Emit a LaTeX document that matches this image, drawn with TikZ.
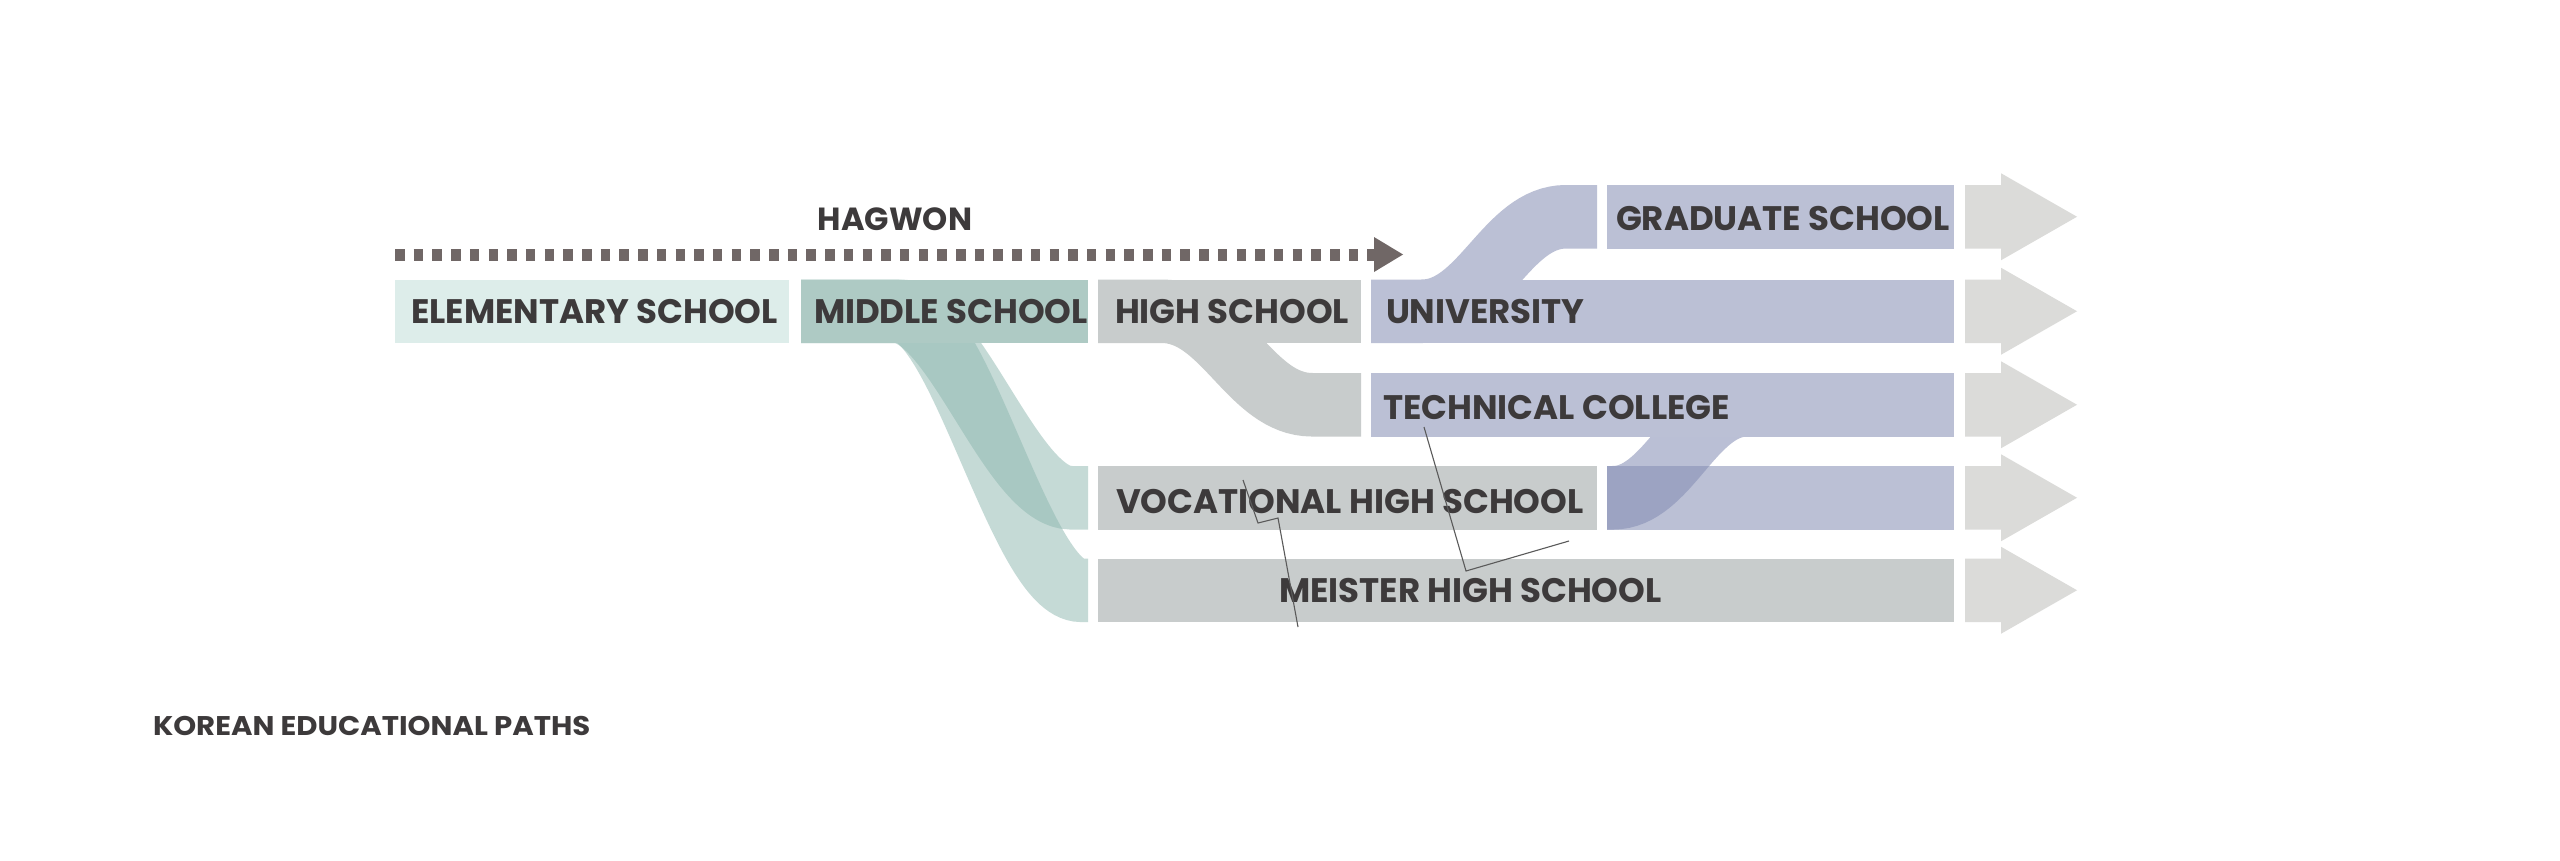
\documentclass[tikz,border=0pt]{standalone}
\usepackage{fontspec}
\setmainfont{Poppins}
\definecolor{elemc}{HTML}{DDEDEA}
\definecolor{midc}{HTML}{AECAC4}
\definecolor{tealc}{HTML}{8DB7AF}
\definecolor{greyc}{HTML}{C8CCCC}
\definecolor{purpc}{HTML}{BBC0D5}
\definecolor{purpband}{HTML}{838CB3}
\definecolor{arrc}{HTML}{DBDBD9}
\definecolor{txtc}{HTML}{3D3A3B}
\definecolor{dotc}{HTML}{706766}
\definecolor{leadc}{HTML}{5A5A5A}
\begin{document}
\begin{tikzpicture}[x=1pt,y=-1pt,
  box/.style={rectangle, inner sep=0pt, outer sep=0pt, anchor=north west, minimum height=63.5pt},
  lbl/.style={anchor=base west, inner sep=0pt, outer sep=0pt, text=txtc, font=\fontsize{34}{40}\selectfont\bfseries},
  flow/.style={line width=63.5pt, line cap=butt},
  leader/.style={draw=leadc, line width=1.1pt},
  hagdots/.style={draw=dotc, line width=12pt, dash pattern=on 9.5pt off 9.2pt}]
\useasboundingbox (0,0) rectangle (2560,860);
\fill[white] (0,0) rectangle (2560,860);

% flows (behind boxes)
\draw[flow, draw=tealc, draw opacity=0.5] (801,311.25) -- (895,311.25) .. controls (955,311.25) and (1011,497.75) .. (1071,497.75) -- (1088,497.75);
\draw[flow, draw=tealc, draw opacity=0.5] (801,311.25) -- (900,311.25) .. controls (960,311.25) and (1021,590.25) .. (1081,590.25) -- (1088,590.25);
\draw[flow, draw=greyc] (1098,311.25) -- (1162,311.25) .. controls (1224,311.25) and (1250,404.75) .. (1312,404.75) -- (1361,404.75);
\draw[flow, draw=purpc] (1371,311.25) -- (1422,311.25) .. controls (1482,311.25) and (1506,216.75) .. (1566,216.75) -- (1597,216.75);

% boxes
\node[box, fill=elemc, minimum width=394pt] (elem) at (395,279.5) {};
\node[box, fill=midc, minimum width=287pt] (mid) at (801,279.5) {};
\node[box, fill=greyc, minimum width=263pt] (high) at (1098,279.5) {};
\node[box, fill=purpc, minimum width=583pt] (univ) at (1371,279.5) {};
\node[box, fill=purpc, minimum width=347pt] (grad) at (1607,185) {};
\node[box, fill=greyc, minimum width=499pt] (voc) at (1098,466) {};
\node[box, fill=purpc, minimum width=347pt] (vocx) at (1607,466) {};
\node[box, fill=greyc, minimum width=856pt] (meis) at (1098,558.5) {};

% technical college -> vocational band, then technical box on top
\draw[flow, draw=purpband, draw opacity=0.55] (1607,497.75) -- (1613,497.75) .. controls (1668,497.75) and (1692,404.75) .. (1747,404.75) -- (1800,404.75);
\node[box, fill=purpc, minimum width=583pt] (tech) at (1371,373) {};

% big arrows
\foreach \yc in {216.75, 311.25, 404.75, 497.75, 590.25}{
  \fill[arrc] (1965,\yc-31.75) -- (2001,\yc-31.75) -- (2001,\yc-43.5) -- (2077,\yc) -- (2001,\yc+43.5) -- (2001,\yc+31.75) -- (1965,\yc+31.75) -- cycle;
}

% hagwon dotted arrow
\coordinate (hagA) at (395,254.5);
\coordinate (hagB) at (1358.2,254.5);
\draw[hagdots] (hagA) -- (hagB);
\fill[dotc] (1367,248.5) rectangle (1375,260.5);
\fill[dotc] (1374,237) -- (1403,254.5) -- (1374,272) -- cycle;

% labels
\node[lbl] (tElem) at (411,323) {ELEMENTARY SCHOOL};
\node[lbl] (tMid) at (814,323) {MIDDLE SCHOOL};
\node[lbl] (tHigh) at (1115,323) {HIGH SCHOOL};
\node[lbl] (tUniv) at (1386,323) {UNIVERSITY};
\node[lbl] (tGrad) at (1616,230) {GRADUATE SCHOOL};
\node[lbl] (tTech) at (1383,419) {TECHNICAL COLLEGE};
\node[lbl] (tVoc) at (1116,513) {VOCATIONAL HIGH SCHOOL};
\node[lbl] (tMeis) at (1279,602) {MEISTER HIGH SCHOOL};
\node[lbl, anchor=base, font=\fontsize{32}{38}\selectfont\bfseries] (tHag) at (895,230) {HAGWON};
\node[lbl, font=\fontsize{27}{32}\selectfont\bfseries] (title) at (153,735) {\scalebox{1.08}[1]{KOREAN EDUCATIONAL PATHS}};

% leader lines
\coordinate (l1a) at (1243,480);
\coordinate (l1b) at (1258,523);
\coordinate (l1c) at (1278,518);
\coordinate (l1d) at (1298,627);
\draw[leader] (l1a) -- (l1b) -- (l1c) -- (l1d);
\coordinate (l2a) at (1424,427);
\coordinate (l2b) at (1466,571);
\coordinate (l2c) at (1569,541);
\draw[leader] (l2a) -- (l2b) -- (l2c);
\end{tikzpicture}
\end{document}
